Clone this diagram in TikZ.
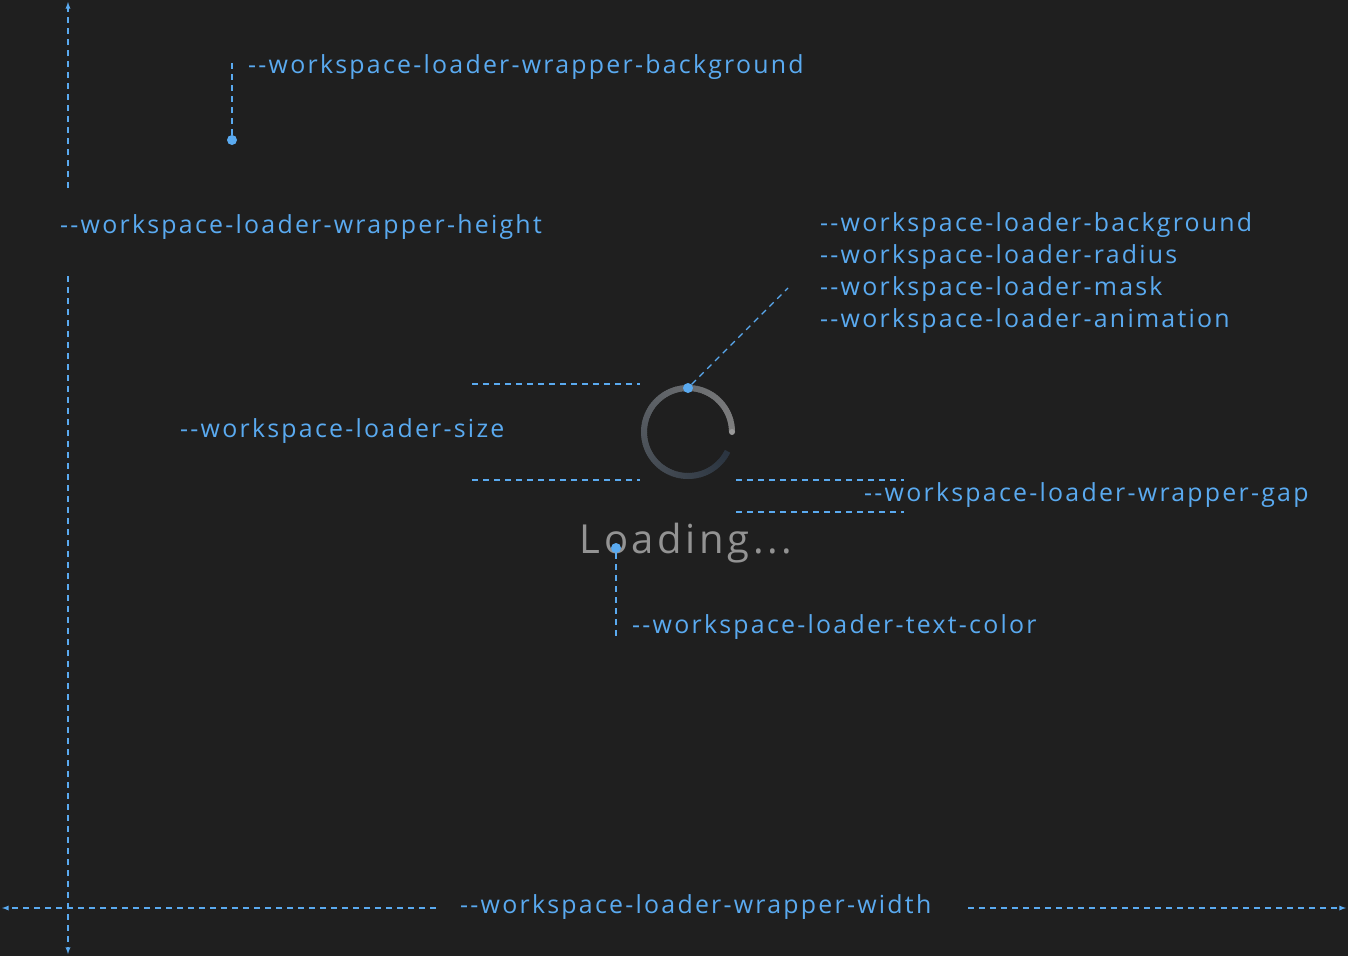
\documentclass[tikz,border=0pt]{standalone}
\usepackage{fontspec}
\setmainfont{Open Sans}[LetterSpace=9]
\begin{document}
\begin{tikzpicture}[x=1pt,y=-1pt,
  lbl/.style={text=bl,font=\fontsize{24.9}{28}\selectfont,inner sep=0pt,anchor=west},
  dl/.style={draw=bl,line width=1.3pt,dash pattern=on 6pt off 5pt},
  dot/.style={circle,fill=bl,inner sep=0pt,minimum size=10pt}]
\definecolor{bl}{HTML}{5AAAF0}
\definecolor{bgc}{HTML}{1F1F1F}
\definecolor{dk}{HTML}{2A3440}
\fill[bgc] (0,0) rectangle (1348,956);
\useasboundingbox (0,0) rectangle (1348,956);
% height arrow
\coordinate (ht) at (68,2); \coordinate (hb) at (68,954);
\draw[dl,-latex] (68,188) -- (ht);
\draw[dl,-latex] (68,276) -- (hb);
\node[lbl] (hl) at (60,227) {{-}{-}workspace-loader-wrapper-height};
% width arrow
\coordinate (wl) at (2,908); \coordinate (wr) at (1346,908);
\draw[dl,-latex] (436,908) -- (wl);
\draw[dl,-latex] (968,908) -- (wr);
\node[lbl] (wlbl) at (460,907) {{-}{-}workspace-loader-wrapper-width};
% background
\node[dot] (bgd) at (232,140) {};
\coordinate (bgt) at (232,62);
\draw[dl] (bgd) -- (bgt);
\node[lbl] (bgl) at (248,67) {{-}{-}workspace-loader-wrapper-background};
% ring
\foreach \a in {0,3,...,330}{
  \pgfmathsetmacro{\c}{max(0,100-\a*0.3)}
  \draw[line width=6pt,color=gray!\c!dk] (688,432) ++(-\a:44) arc[start angle=-\a,end angle=-\a-4,radius=44];
}
\fill[gray!80] (732,432) circle (3pt);
\node[dot] (rd) at (688,388) {};
\coordinate (rt) at (788,288);
\draw[dl] (rd) -- (rt);
\node[lbl,align=left,anchor=north west,font=\fontsize{24.9}{32}\selectfont] (rl) at (820,212) {{-}{-}workspace-loader-background\\{-}{-}workspace-loader-radius\\{-}{-}workspace-loader-mask\\{-}{-}workspace-loader-animation};
% size
\draw[dl] (472,384) -- (640,384);
\draw[dl] (472,480) -- (640,480);
\node[lbl] (sl) at (180,431) {{-}{-}workspace-loader-size};
% gap
\draw[dl] (736,480) -- (904,480);
\draw[dl] (736,512) -- (904,512);
\node[lbl] (gl) at (864,495) {{-}{-}workspace-loader-wrapper-gap};
% loading text
\node[text=gray!85,font=\fontsize{40}{44}\selectfont,inner sep=0pt] (ld) at (686,543) {Loading...};
\node[dot] (td) at (616,548) {};
\coordinate (tb) at (616,640);
\draw[dl] (td) -- (tb);
\node[lbl] (tl) at (632,627) {{-}{-}workspace-loader-text-color};
\end{tikzpicture}
\end{document}
